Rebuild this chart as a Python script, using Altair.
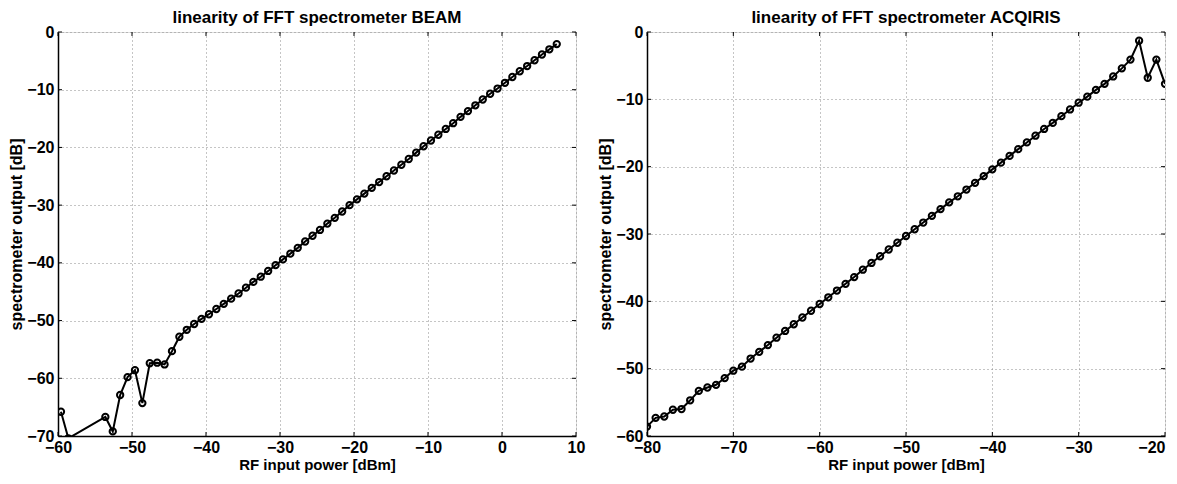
import altair as alt
import pandas as pd

# ---------------- data ----------------
beam_x = [-59.6, -58.6, -53.6, -52.6, -51.6, -50.6, -49.6, -48.6, -47.6, -46.6,
          -45.6, -44.6, -43.6, -42.6, -41.6, -40.6, -39.6, -38.6, -37.6, -36.6,
          -35.6, -34.6, -33.6, -32.6, -31.6, -30.6, -29.6, -28.6, -27.6, -26.6,
          -25.6, -24.6, -23.6, -22.6, -21.6, -20.6, -19.6, -18.6, -17.6, -16.6,
          -15.6, -14.6, -13.6, -12.6, -11.6, -10.6, -9.6, -8.6, -7.6, -6.6,
          -5.6, -4.6, -3.6, -2.6, -1.6, -0.6, 0.4, 1.4, 2.4, 3.4,
          4.4, 5.4, 6.4, 7.4]
beam_y = [-65.8, -70.4, -66.7, -69.2, -62.9, -59.8, -58.6, -64.3, -57.4, -57.3,
          -57.6, -55.3, -52.8, -51.6, -50.6, -49.7, -48.9, -48.0, -47.1, -46.2,
          -45.3, -44.3, -43.3, -42.4, -41.4, -40.4, -39.4, -38.4, -37.4, -36.3,
          -35.3, -34.3, -33.2, -32.2, -31.1, -30.0, -29.0, -28.0, -27.0, -26.0,
          -25.0, -24.0, -23.0, -22.0, -20.9, -19.8, -18.8, -17.8, -16.8, -15.8,
          -14.7, -13.7, -12.7, -11.7, -10.7, -9.8, -8.8, -7.8, -6.8, -5.9,
          -4.9, -3.9, -3.0, -2.1]

acq_x = [-80, -79, -78, -77, -76, -75, -74, -73, -72, -71,
         -70, -69, -68, -67, -66, -65, -64, -63, -62, -61,
         -60, -59, -58, -57, -56, -55, -54, -53, -52, -51,
         -50, -49, -48, -47, -46, -45, -44, -43, -42, -41,
         -40, -39, -38, -37, -36, -35, -34, -33, -32, -31,
         -30, -29, -28, -27, -26, -25, -24, -23, -22, -21,
         -20]
acq_y = [-58.6, -57.3, -57.1, -56.1, -56.0, -54.7, -53.3, -52.8, -52.4, -51.4,
         -50.3, -49.7, -48.5, -47.5, -46.5, -45.4, -44.4, -43.4, -42.4, -41.4,
         -40.4, -39.4, -38.4, -37.4, -36.4, -35.3, -34.3, -33.3, -32.3, -31.3,
         -30.3, -29.3, -28.3, -27.3, -26.3, -25.3, -24.4, -23.4, -22.4, -21.4,
         -20.4, -19.4, -18.4, -17.4, -16.4, -15.4, -14.4, -13.5, -12.5, -11.5,
         -10.5, -9.6, -8.6, -7.7, -6.6, -5.4, -4.1, -1.3, -6.8, -4.1,
         -7.7]

beam_xticks = [-60, -50, -40, -30, -20, -10, 0, 10]
beam_yticks = [-70, -60, -50, -40, -30, -20, -10, 0]
acq_xticks = [-80, -70, -60, -50, -40, -30, -20]
acq_yticks = [-60, -50, -40, -30, -20, -10, 0]

title_beam = "linearity of FFT spectrometer BEAM"
title_acq = "linearity of FFT spectrometer ACQIRIS"
xlabel = "RF input power [dBm]"
ylabel = "spectrometer output [dB]"

W, H = 518, 404
FONT = "Liberation Sans"
TICK = 4


def panel(xs_, ys_, xdom, ydom, xticks, yticks, title, right_edge=None):
    df = pd.DataFrame({"x": xs_, "y": ys_})
    xsc = alt.Scale(domain=xdom, nice=False, zero=False)
    ysc = alt.Scale(domain=ydom, nice=False, zero=False)
    common = dict(
        grid=True, gridColor="#8a8a8a", gridDash=[1, 3], gridWidth=1,
        tickSize=0, labelFont=FONT, labelFontSize=16, labelFontWeight="bold",
        labelColor="black", titleFont=FONT,
        titleFontWeight="bold", titleColor="black", labelFlush=False,
        domain=True, domainColor="black", domainWidth=1.5,
    )
    xextra = {}
    if right_edge is not None:
        xextra["labelAlign"] = alt.condition(
            f"datum.value == {right_edge}", alt.value("right"),
            alt.value("center"))
    xax = alt.Axis(values=xticks, title=xlabel, labelPadding=3,
                   titlePadding=2, titleFontSize=15, **common, **xextra)
    yax = alt.Axis(values=yticks, title=ylabel, labelPadding=4,
                   titlePadding=2, titleFontSize=16, **common)
    base = alt.Chart(df)
    line = base.mark_line(color="black", strokeWidth=2, clip=True).encode(
        x=alt.X("x:Q", scale=xsc, axis=xax),
        y=alt.Y("y:Q", scale=ysc, axis=yax),
    )
    pts = base.mark_point(shape="circle", filled=False, color="black",
                          size=40, strokeWidth=2, opacity=1,
                          clip=True).encode(
        x=alt.X("x:Q", scale=xsc, axis=xax),
        y=alt.Y("y:Q", scale=ysc, axis=yax),
    )
    xt = alt.Chart(pd.DataFrame({"v": xticks}))
    yt = alt.Chart(pd.DataFrame({"v": yticks}))
    tb = xt.mark_rule(color="black", strokeWidth=1).encode(
        x=alt.X("v:Q", scale=xsc, axis=xax),
        y=alt.value(H), y2=alt.value(H - TICK))
    tt = xt.mark_rule(color="black", strokeWidth=1).encode(
        x=alt.X("v:Q", scale=xsc, axis=xax),
        y=alt.value(0), y2=alt.value(TICK))
    tl = yt.mark_rule(color="black", strokeWidth=1).encode(
        y=alt.Y("v:Q", scale=ysc, axis=yax),
        x=alt.value(0), x2=alt.value(TICK))
    tr = yt.mark_rule(color="black", strokeWidth=1).encode(
        y=alt.Y("v:Q", scale=ysc, axis=yax),
        x=alt.value(W), x2=alt.value(W - TICK))
    return alt.layer(line, pts, tb, tt, tl, tr).properties(
        width=W, height=H,
        title=alt.TitleParams(title, font=FONT, fontSize=17,
                              fontWeight="bold", color="black",
                              anchor="middle", baseline="alphabetic",
                              offset=-16),
    )


left = panel(beam_x, beam_y, [-60, 10], [-70, 0], beam_xticks, beam_yticks,
             title_beam)
right = panel(acq_x, acq_y, [-80, -20], [-60, 0], acq_xticks, acq_yticks,
              title_acq, right_edge=-20)

chart = alt.hconcat(left, right, spacing=71, bounds="flush").properties(
    padding={"left": 0, "top": 0, "right": 0, "bottom": 0}
).configure_view(stroke="black", strokeWidth=1).configure(
    background="white")

chart.save("out.html", embed_options={"renderer": "svg", "actions": False})
